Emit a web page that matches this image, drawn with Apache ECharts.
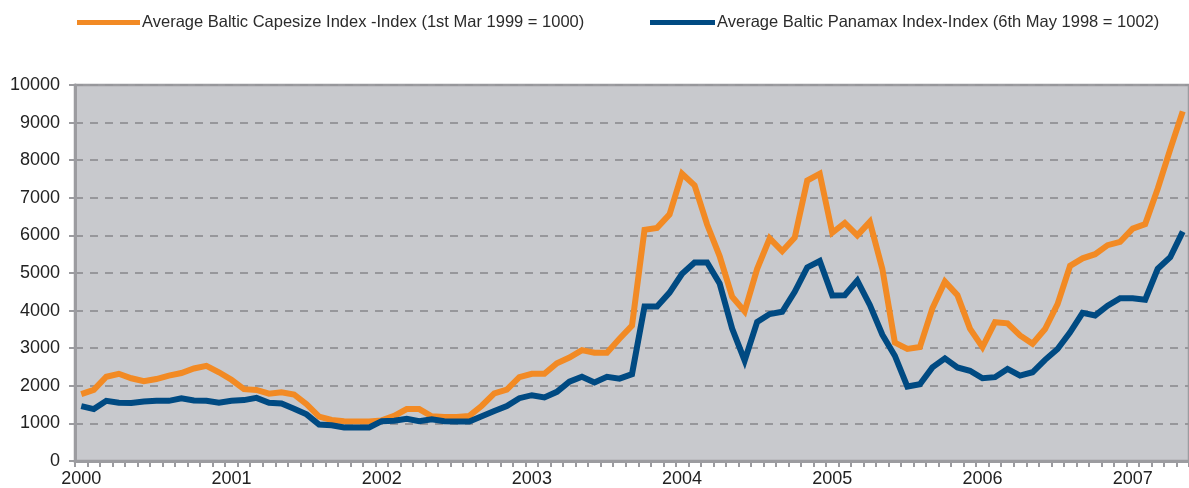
<!DOCTYPE html>
<html>
<head>
<meta charset="utf-8">
<script src="https://cdn.jsdelivr.net/npm/echarts@6/dist/echarts.min.js"></script>
<style>
html,body{margin:0;padding:0;background:#fff;}
#chart{width:1189px;height:488px;}
</style>
</head>
<body>
<div id="chart"></div>
<script>
// Monthly categories Jan 2000 .. May 2007
var years = ['2000','2001','2002','2003','2004','2005','2006','2007'];
var months = ['01','02','03','04','05','06','07','08','09','10','11','12'];
var monthCount = 89;

var capesizeName = 'Average Baltic Capesize Index -Index (1st Mar 1999 = 1000)';
var panamaxName = 'Average Baltic Panamax Index-Index (6th May 1998 = 1002)';

var capesize = [
  1780,1890,2240,2320,2200,2120,2180,2270,2340,2460,2530,2360,
  2160,1910,1890,1790,1830,1770,1510,1180,1090,1060,1050,1050,
  1080,1200,1380,1380,1190,1170,1170,1200,1470,1800,1900,2230,
  2320,2320,2600,2750,2950,2880,2880,3250,3600,6150,6200,6560,
  7640,7330,6290,5450,4370,3980,5110,5920,5580,5940,7460,7640,
  6070,6330,6000,6360,5110,3150,2980,3030,4060,4770,4410,3520,
  3030,3690,3660,3340,3120,3510,4170,5190,5390,5500,5740,5830,
  6180,6300,7240,8290,9300
];
var panamax = [
  1460,1380,1600,1550,1540,1580,1600,1600,1670,1610,1600,1550,
  1600,1620,1680,1550,1530,1390,1240,970,950,890,890,890,
  1060,1070,1120,1060,1110,1060,1050,1050,1190,1330,1460,1670,
  1750,1690,1840,2110,2240,2090,2240,2190,2310,4110,4110,4480,
  4980,5280,5280,4720,3520,2670,3700,3910,3970,4500,5150,5320,
  4400,4410,4800,4150,3360,2800,1980,2040,2490,2730,2490,2400,
  2200,2230,2450,2270,2360,2690,2980,3420,3940,3870,4130,4330,
  4330,4290,5110,5420,6100
];

var categories = [];
for (var i = 0; i < monthCount; i++) {
  categories.push(years[Math.floor(i / 12)] + '-' + months[i % 12]);
}

var chart = echarts.init(document.getElementById('chart'), null, {renderer: 'canvas'});
var axisGray = '#9c9ca0';
var font = "'Liberation Sans', sans-serif";

chart.setOption({
  animation: false,
  backgroundColor: '#ffffff',
  legend: [{
    data: [capesizeName],
    left: 77, top: 14, padding: 0,
    icon: 'rect', itemWidth: 63, itemHeight: 5,
    textStyle: {fontSize: 16.5, color: '#2b2b2b', fontFamily: font, padding: [0,0,0,-3]}
  }, {
    data: [panamaxName],
    left: 650, top: 14, padding: 0,
    icon: 'rect', itemWidth: 65, itemHeight: 5,
    textStyle: {fontSize: 16.5, color: '#2b2b2b', fontFamily: font, padding: [0,0,0,-3]}
  }],
  grid: {
    left: 75, top: 85, bottom: 27, right: -5,
    show: true, backgroundColor: '#c8c9cd',
    borderWidth: 2.5, borderColor: axisGray
  },
  xAxis: {
    type: 'category',
    data: categories,
    boundaryGap: true,
    axisLine: {show: true, lineStyle: {color: axisGray, width: 3}},
    axisTick: {show: true, interval: 0, length: 6, lineStyle: {color: axisGray, width: 2}},
    axisLabel: {
      interval: 11, fontSize: 18, color: '#222', fontFamily: font, margin: 9,
      formatter: function (v) { return v.slice(0, 4); }
    },
    splitLine: {show: false}
  },
  yAxis: {
    type: 'value',
    min: 0, max: 10000, interval: 1000,
    axisLine: {show: true, lineStyle: {color: axisGray, width: 3}},
    axisTick: {show: true, length: 6, lineStyle: {color: axisGray, width: 2}},
    axisLabel: {fontSize: 18, color: '#222', fontFamily: font, margin: 15,
      formatter: function (v) { return String(v); }},
    splitLine: {show: true, lineStyle: {color: '#97979b', width: 2, type: [8, 7]}}
  },
  series: [{
    name: capesizeName,
    type: 'line',
    data: capesize,
    symbol: 'none',
    color: '#f28a24',
    lineStyle: {width: 6, color: '#f28a24', join: 'miter'},
    z: 3
  }, {
    name: panamaxName,
    type: 'line',
    data: panamax,
    symbol: 'none',
    color: '#004a82',
    lineStyle: {width: 6, color: '#004a82', join: 'miter'},
    z: 4
  }]
});
</script>
</body>
</html>
